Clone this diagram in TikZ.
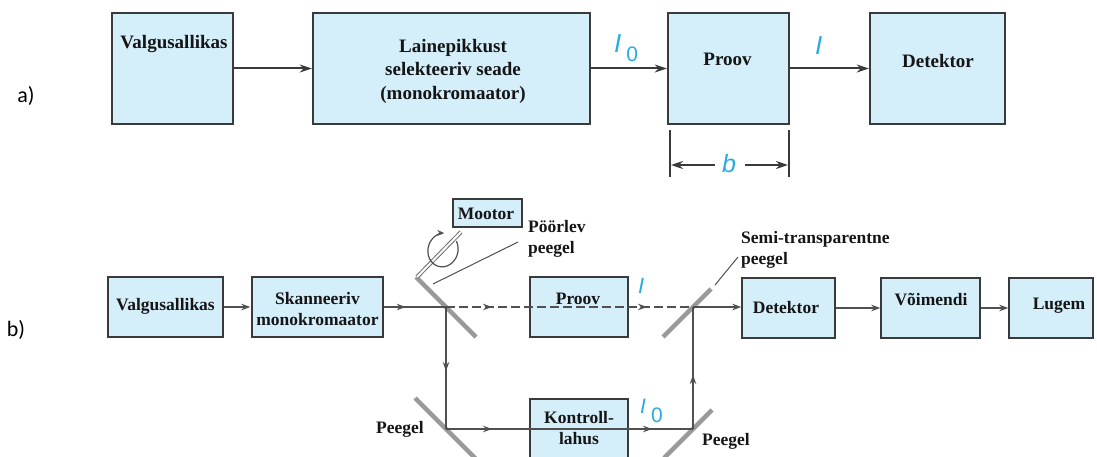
\documentclass[tikz,border=0pt]{standalone}
\usepackage{fontspec}
\setmainfont{Liberation Serif}
\newfontfamily\lblfont{Liberation Sans}
\newfontfamily\calfont{Carlito}
\usetikzlibrary{arrows.meta,decorations.markings}
\definecolor{boxfill}{HTML}{D4EEFA}
\definecolor{boxline}{HTML}{3A3A3A}
\definecolor{lblblue}{HTML}{29ABE2}
\definecolor{mirrorgray}{HTML}{999999}
\definecolor{beamgray}{HTML}{505050}
\definecolor{txtcol}{HTML}{151515}
\tikzset{
  tipb/.tip={Stealth[length=9pt,width=6.5pt]},
  tipa/.tip={Stealth[length=12pt,width=8pt]},
  boxa/.style={draw=boxline, fill=boxfill, line width=2.4pt, inner sep=0pt},
  boxb/.style={draw=boxline, fill=boxfill, line width=1.4pt, inner sep=0pt},
  txta/.style={font=\bfseries\fontsize{19}{23.5}\selectfont, align=center, inner sep=0pt, text=txtcol},
  txtb/.style={font=\bfseries\fontsize{17.5}{20.5}\selectfont, align=center, inner sep=0pt, text=txtcol},
  lbl/.style={font=\lblfont\itshape, text=lblblue, inner sep=0pt},
  side/.style={font=\calfont\fontsize{22}{22}\selectfont, inner sep=0pt},
  arra/.style={draw=boxline, line width=2pt, -{tipa}},
  beam/.style={draw=beamgray, line width=1.2pt},
  mirror/.style={draw=mirrorgray, line width=4.5pt},
  shaft/.style={draw=mirrorgray!70!black, double=white, double distance=2pt, line width=1pt},
  leader/.style={draw=beamgray, line width=1pt},
  midarrow/.style={postaction={decorate, decoration={markings, mark=at position #1 with {\arrow[fill=beamgray]{tipb}}}}}
}
\begin{document}
\begin{tikzpicture}[x=1pt, y=-1pt]
\useasboundingbox (0,0) rectangle (1097,457);
\clip (0,0) rectangle (1097,457);

% ---------- part a ----------
\node[side] (la) at (26,96) {a)};
\node[boxa, minimum width=121pt, minimum height=111pt] (aVA) at (172.5,68.5) {};
\node[boxa, minimum width=277pt, minimum height=111pt] (aLP) at (451.5,68.5) {};
\node[boxa, minimum width=121pt, minimum height=111pt] (aPR) at (728.5,68.5) {};
\node[boxa, minimum width=135pt, minimum height=111pt] (aDE) at (937.5,68.5) {};
\node[txta] (taVA) at (174,44) {Valgusallikas};
\node[txta] (taLP) at (453,71) {Lainepikkust\\selekteeriv seade\\(monokromaator)};
\node[txta] (taPR) at (727.5,59) {Proov};
\node[txta] (taDE) at (938,61) {Detektor};
\draw[arra] (aVA.east) -- (aLP.west);
\draw[arra] (aLP.east) -- (aPR.west);
\draw[arra] (aPR.east) -- (aDE.west);
\node[lbl, anchor=base west, font=\lblfont\itshape\fontsize{26}{26}\selectfont] (aI0) at (614,53)
  {I\hspace{5pt}\raisebox{-9pt}{\upshape\fontsize{21}{21}\selectfont 0}};
\node[lbl, anchor=base west, font=\lblfont\itshape\fontsize{26}{26}\selectfont] (aI) at (815,55) {I};
% dimension b
\draw[line width=2pt, draw=boxline] (670,130) -- (670,177);
\draw[line width=2pt, draw=boxline] (789,130) -- (789,177);
\node[lbl, anchor=base, font=\lblfont\itshape\fontsize{25}{25}\selectfont] (bdim) at (729,173) {b};
\coordinate (dimLs) at (715,165);
\coordinate (dimL) at (671,165);
\coordinate (dimRs) at (745,165);
\coordinate (dimR) at (788,165);
\draw[arra] (dimLs) -- (dimL);
\draw[arra] (dimRs) -- (dimR);

% ---------- part b ----------
\node[side] (lb) at (16,330) {b)};
\node[boxb, minimum width=115pt, minimum height=60pt] (bVA) at (165.5,307) {};
\node[boxb, minimum width=131pt, minimum height=60pt] (bSK) at (317.5,307) {};
\node[boxb, minimum width=98pt, minimum height=60pt] (bPR) at (579,307) {};
\node[boxb, minimum width=98pt, minimum height=72pt] (bKO) at (579,435) {};
\node[boxb, minimum width=93pt, minimum height=60pt] (bDE) at (788.5,308) {};
\node[boxb, minimum width=99pt, minimum height=60pt] (bVO) at (930.5,308) {};
\node[boxb, minimum width=84pt, minimum height=60pt] (bLU) at (1051,308) {};
\node[boxb, minimum width=69pt, minimum height=28pt] (bMO) at (487.5,213) {};

% mirrors
\draw[mirror] (416,277) -- (476,337);
\draw[mirror] (415,398) -- (477,460);
\draw[mirror] (664,458) -- (712,410);
\draw[mirror] (663,337) -- (711,289);
\draw[shaft] (417,277) -- (461,232);
\draw[leader] (433,284) -- (518,242);
\draw[leader] (715,285) -- (738,257);
\draw[draw=beamgray, line width=1.2pt, -{Stealth[length=7pt,width=6pt]}, rotate around={-15:(443,250)}]
  (443,250) ++(-45:15 and 17) arc[start angle=-45, end angle=258, x radius=15, y radius=17];

% beams
\coordinate (M1) at (446,307);
\coordinate (M2) at (446,429);
\coordinate (M3) at (693,429);
\coordinate (M4) at (693,307);
\draw[beam, -{tipb}, shorten >=1pt] (bVA.east) -- (bSK.west);
\draw[beam, midarrow=22pt] (bSK.east) -- (M1);
\draw[beam, dash pattern=on 9pt off 4pt, midarrow=46pt, midarrow=201pt] (M1) -- (M4);
\draw[beam, -{tipb}] (M4) -- (M4 -| bDE.west);
\draw[beam, midarrow=64pt] (M1) -- (M2);
\draw[beam, midarrow=46pt, midarrow=206pt] (M2) -- (M3);
\draw[beam, midarrow=54pt] (M3) -- (M4);
\draw[beam, -{tipb}] (bDE.east) -- (bVO.west);
\draw[beam, -{tipb}] (bVO.east) -- (bLU.west);

% texts
\node[txtb] (tbVA) at (165.5,306) {Valgusallikas};
\node[txtb] (tbSK) at (317.5,309) {Skanneeriv\\monokromaator};
\node[txtb] (tbPR) at (578,299) {Proov};
\node[txtb] (tbKO) at (579,428) {Kontroll-\\lahus};
\node[txtb] (tbDE) at (786,308) {Detektor};
\node[txtb] (tbVO) at (931,300) {Võimendi};
\node[txtb] (tbLU) at (1059,306) {Lugem};
\node[txtb] (tbMO) at (486,214) {Mootor};
\node[txtb, anchor=west, align=left] (lPP) at (528,239) {Pöörlev\\peegel};
\node[txtb, anchor=west, align=left] (lST) at (741,250) {Semi-transparentne\\peegel};
\node[txtb, anchor=east] (lPG1) at (424,429) {Peegel};
\node[txtb, anchor=west] (lPG2) at (702,441) {Peegel};
\node[lbl, anchor=base west, font=\lblfont\itshape\fontsize{22}{22}\selectfont] (bI) at (638,293) {I};
\node[lbl, anchor=base west, font=\lblfont\itshape\fontsize{21}{21}\selectfont] (bI0) at (640,413)
  {I\hspace{5pt}\raisebox{-9pt}{\upshape 0}};
\end{tikzpicture}
\end{document}
